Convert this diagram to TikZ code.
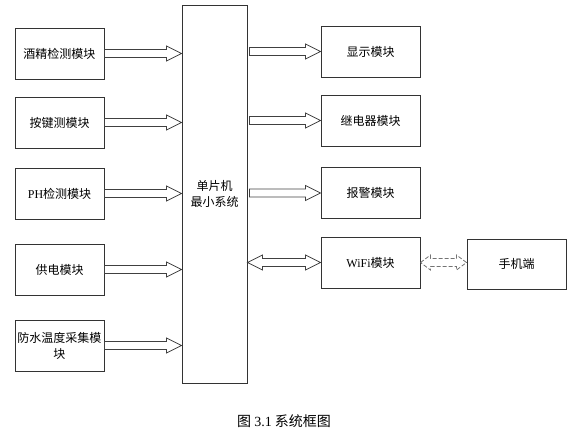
\documentclass[tikz,border=0pt]{standalone}
\usepackage{fontspec}
\setmainfont{Liberation Serif}
\newfontfamily\cjk{Noto Sans CJK SC}
\usetikzlibrary{calc}

% hollow block arrow, from #2 to #3 (units are px)
\newcommand{\fatarrow}[3][]{%
  \draw[fat,#1] ($(#2)+(0,4)$) -- ($(#3)+(-15,4)$) -- ($(#3)+(-15,7.5)$) -- (#3)
    -- ($(#3)+(-15,-7.5)$) -- ($(#3)+(-15,-4)$) -- ($(#2)+(0,-4)$) -- cycle;}
% hollow double block arrow, #4 = head length
\newcommand{\fatdarrow}[4][]{%
  \draw[fat,#1] (#2) -- ($(#2)+(#4,-7.5)$) -- ($(#2)+(#4,-4)$) -- ($(#3)+(-#4,-4)$)
    -- ($(#3)+(-#4,-7.5)$) -- (#3) -- ($(#3)+(-#4,7.5)$) -- ($(#3)+(-#4,4)$)
    -- ($(#2)+(#4,4)$) -- ($(#2)+(#4,7.5)$) -- cycle;}

\begin{document}
\begin{tikzpicture}[x=0.75pt,y=-0.75pt,
    font=\cjk\fontsize{9}{12}\selectfont,
    module/.style={draw=black!80,line width=0.75pt,minimum height=38.25pt,
      inner sep=1pt,align=center},
    inmod/.style={module,minimum width=66.75pt},
    outmod/.style={module,minimum width=74.25pt},
    fat/.style={draw=black!75,line width=0.6pt,line join=miter}]
  \useasboundingbox (0,0) rectangle (576,436);

  % inputs
  \node[inmod] (b1) at (59.5,53.5) {酒精检测模块};
  \node[inmod] (b2) at (59.5,122.5) {按键测模块};
  \node[inmod] (b3) at (59.5,193.5) {{\rmfamily PH}检测模块};
  \node[inmod] (b4) at (59.5,269.5) {供电模块};
  \node[inmod] (b5) at (59.5,345.5) {防水温度采集模\\块};

  % controller
  \node[module,minimum width=48.75pt,minimum height=283.5pt] (mcu) at (214.5,194)
    {单片机\\最小系统};

  % outputs
  \node[outmod] (d1) at (370.5,51.5) {显示模块};
  \node[outmod] (d2) at (370.5,120.5) {继电器模块};
  \node[outmod] (d3) at (370.5,193) {报警模块};
  \node[outmod] (d4) at (370.5,262.5) {{\rmfamily WiFi}模块};
  \node[outmod,minimum height=37.5pt] (phone) at (516.5,264) {手机端};

  \foreach \i in {1,...,5}
    \coordinate (m\i) at (b\i.east -| mcu.west);
  \foreach \i in {1,2,3}
    \coordinate (n\i) at ($(mcu.east |- d\i.west)+(2,0)$);
  \coordinate (n4) at (mcu.east |- d4.west);
  \coordinate (p4) at (phone.west |- d4.east);

  \foreach \i in {1,...,5}
    \fatarrow{b\i.east}{m\i};
  \foreach \i in {1,2,3}
    \fatarrow{n\i}{d\i.west};
  \fatdarrow{n4}{d4.west}{15}
  \fatdarrow[draw=black!55,dash pattern=on 3pt off 1.5pt]{d4.east}{p4}{10}

  \node[font=\cjk\fontsize{10.5}{12}\selectfont] (cap) at (284,421)
    {图 {\rmfamily 3.1} 系统框图};
\end{tikzpicture}
\end{document}
